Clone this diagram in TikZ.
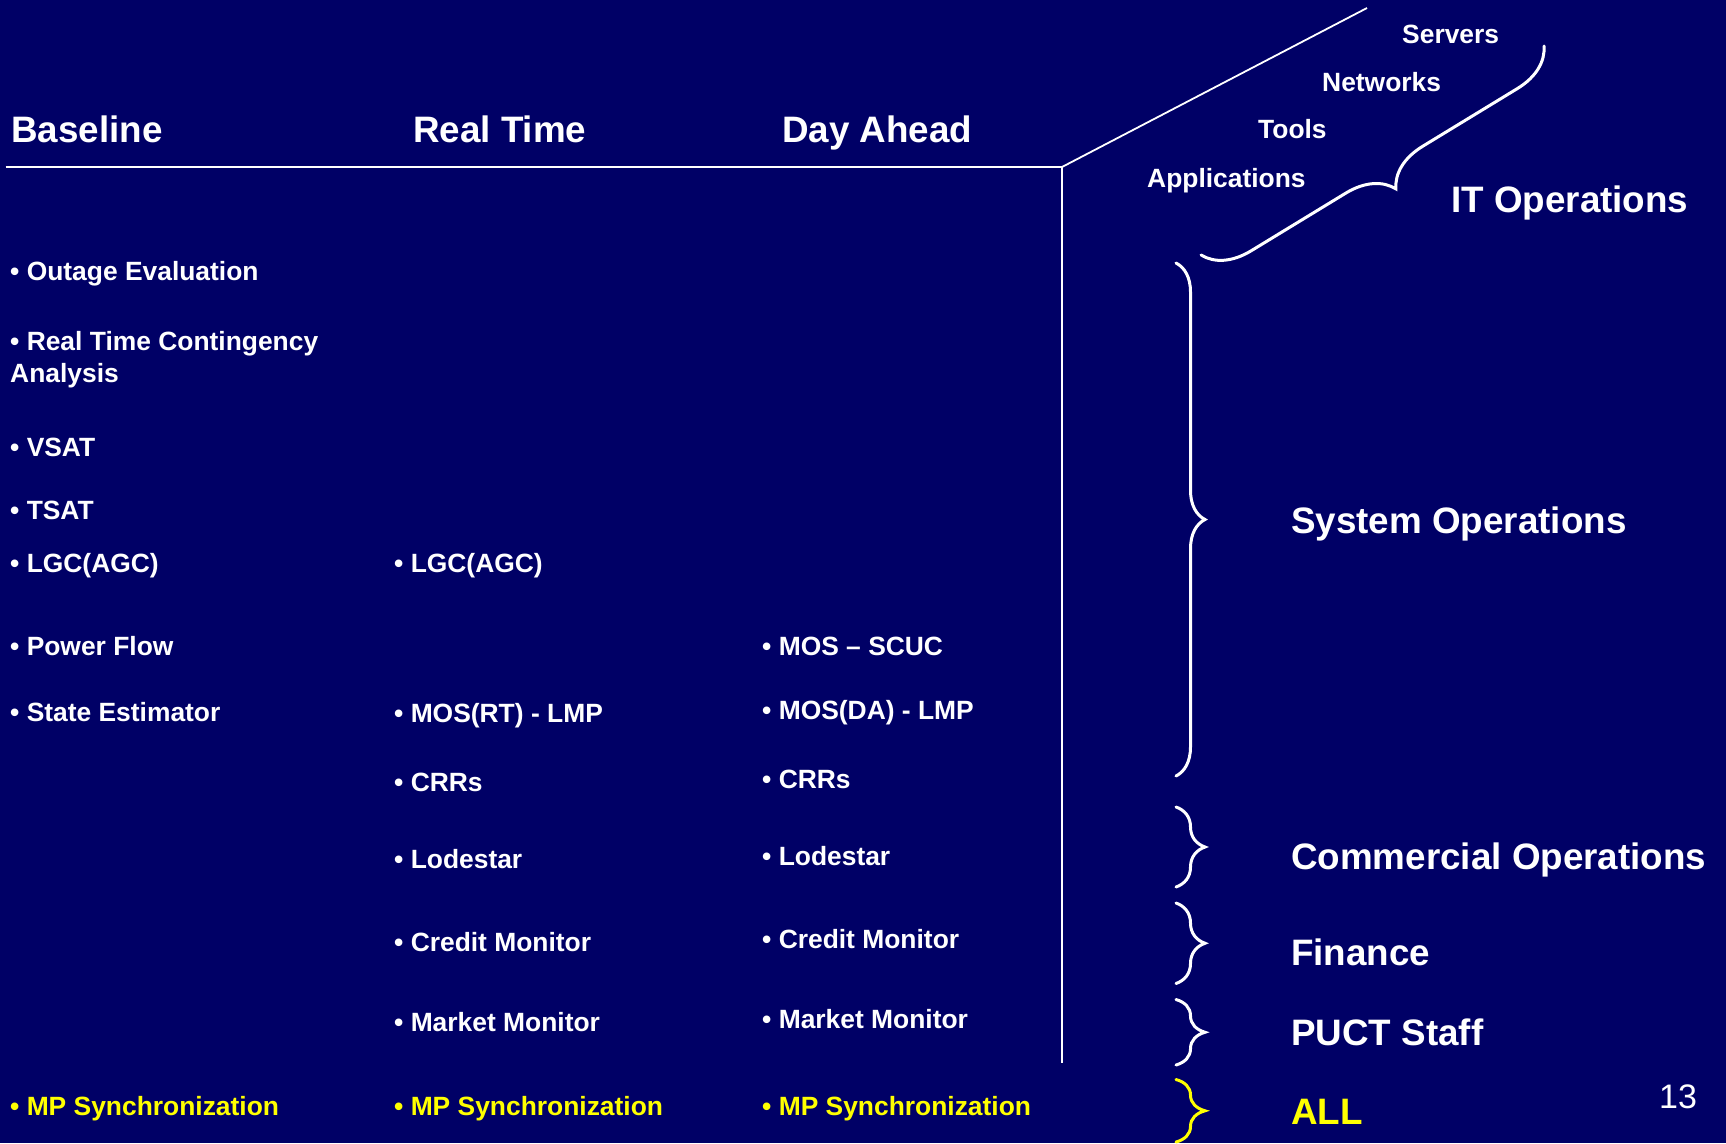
\documentclass[tikz,border=0pt]{standalone}
\usepackage{fontspec}
\setmainfont{Liberation Sans}
\usetikzlibrary{decorations.pathreplacing}
\definecolor{slidebg}{RGB}{0,0,102}
\definecolor{hilite}{RGB}{255,255,0}
\begin{document}
\begin{tikzpicture}[x=1pt,y=-1pt,
  item/.style={anchor=base west,inner sep=0pt,text=white,
    font=\fontsize{26.4}{31}\selectfont\bfseries},
  mpitem/.style={item,text=hilite},
  head/.style={anchor=base west,inner sep=0pt,text=white,
    font=\fontsize{36.8}{42}\selectfont\bfseries},
  group/.style={head},
  rule/.style={draw=white,line width=1.8pt},
  curly/.style={draw=white,line width=3pt,line cap=round,decorate,
    decoration={brace,amplitude=29pt}},
]
% slide background
\fill[slidebg] (0,0) rectangle (1726,1143);
\useasboundingbox (0,0) rectangle (1726,1143);

% column headers
\node[head] (hbase) at (11,142) {Baseline};
\node[head] (hrt)   at (413,142) {Real Time};
\node[head] (hda)   at (782,142) {Day Ahead};

% frame: header rule, column divider and the slanted edge
\coordinate (ruleL) at (5.5,167);
\coordinate (corner) at (1062,167);
\coordinate (divB) at (1062,1063);
\coordinate (slantT) at (1367,8);
\draw[rule] (ruleL) -- (corner) -- (divB);
\draw[rule] (corner) -- (slantT);

% baseline column
\node[item] (b1) at (10,280) {• Outage Evaluation};
\node[item] (b2) at (10,350) {• Real Time Contingency};
\node[item] (b2b) at (10,382.7) {Analysis};
\node[item] (b3) at (10,456) {• VSAT};
\node[item] (b4) at (10,519.5) {• TSAT};
\node[item] (b5) at (10,572.5) {• LGC(AGC)};
\node[item] (b6) at (10,655) {• Power Flow};
\node[item] (b7) at (10,721.5) {• State Estimator};
\node[mpitem] (b8) at (10,1115) {• MP Synchronization};

% real time column
\node[item] (r1) at (394,572.5) {• LGC(AGC)};
\node[item] (r2) at (394,722) {• MOS(RT) - LMP};
\node[item] (r3) at (394,791.5) {• CRRs};
\node[item] (r4) at (394,868) {• Lodestar};
\node[item] (r5) at (394,951) {• Credit Monitor};
\node[item] (r6) at (394,1031.5) {• Market Monitor};
\node[mpitem] (r7) at (394,1115) {• MP Synchronization};

% day ahead column
\node[item] (d1) at (762,655) {• MOS – SCUC};
\node[item] (d2) at (762,719) {• MOS(DA) - LMP};
\node[item] (d3) at (762,788.5) {• CRRs};
\node[item] (d4) at (762,865) {• Lodestar};
\node[item] (d5) at (762,948.5) {• Credit Monitor};
\node[item] (d6) at (762,1028) {• Market Monitor};
\node[mpitem] (d7) at (762,1115) {• MP Synchronization};

% IT layers along the slanted edge
\node[item] (srv) at (1402,43) {Servers};
\node[item] (net) at (1322,91) {Networks};
\node[item] (tls) at (1258,138.5) {Tools};
\node[item] (app) at (1147,187) {Applications};

% braces
\coordinate (itA) at (1544,46);
\coordinate (itB) at (1201,255);
\draw[curly,decoration={brace,amplitude=45pt}] (itA) -- (itB);
\coordinate (sysT) at (1176,263);   \coordinate (sysB) at (1176,776);
\coordinate (comT) at (1176,807);   \coordinate (comB) at (1176,887);
\coordinate (finT) at (1176,903);   \coordinate (finB) at (1176,983.5);
\coordinate (pucT) at (1176,999.5); \coordinate (pucB) at (1176,1065);
\coordinate (allT) at (1176,1079.5);\coordinate (allB) at (1176,1142);
\draw[curly] (sysT) -- (sysB);
\draw[curly] (comT) -- (comB);
\draw[curly] (finT) -- (finB);
\draw[curly] (pucT) -- (pucB);
\draw[curly,draw=hilite] (allT) -- (allB);

% group labels
\node[group] (itops) at (1451,212) {IT Operations};
\node[group] (sysops) at (1291,533) {System Operations};
\node[group] (comops) at (1291,869) {Commercial Operations};
\node[group] (fin) at (1291,965) {Finance};
\node[group] (puct) at (1291,1045.5) {PUCT Staff};
\node[group,text=hilite] (all) at (1291,1124) {ALL};

% page number
\node[anchor=base west,inner sep=0pt,text=white,
  font=\fontsize{34}{40}\selectfont] (pgno) at (1659,1108.5) {13};
\end{tikzpicture}
\end{document}
